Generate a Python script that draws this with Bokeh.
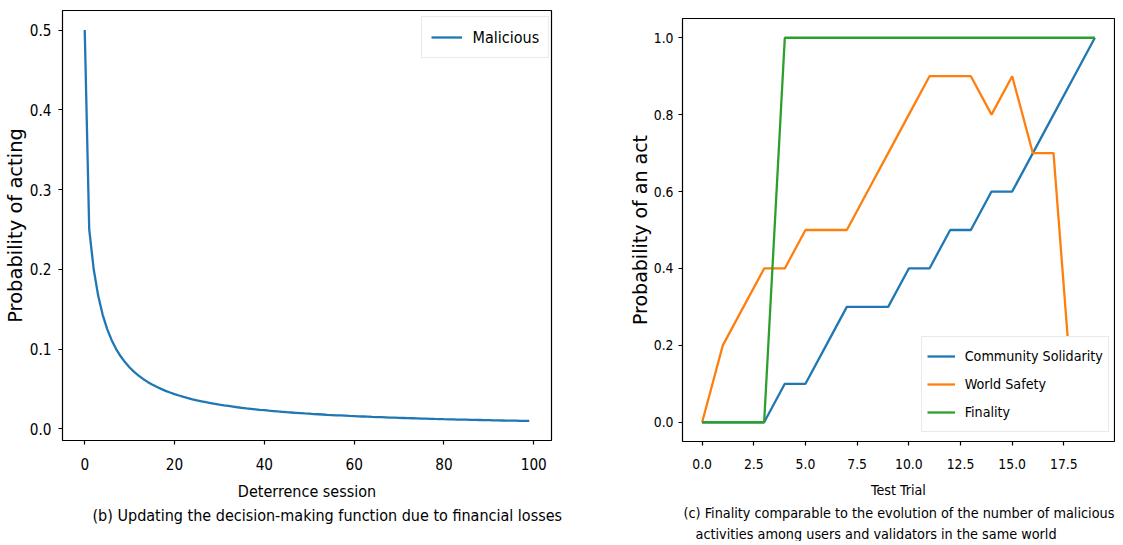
from bokeh.plotting import figure
from bokeh.models import Range1d, FixedTicker, NumeralTickFormatter, Legend, LegendItem, Title
from bokeh.layouts import row
from bokeh.embed import file_html
from bokeh.resources import INLINE

# ---------------- data ----------------
deterrence_session = list(range(100))
malicious = [0.5, 0.25, 0.2, 0.1667, 0.1429, 0.125, 0.1111, 0.1, 0.0909, 0.0833,
             0.0769, 0.0714, 0.0667, 0.0625, 0.0588, 0.0556, 0.0526, 0.05, 0.0476, 0.0455,
             0.0435, 0.0417, 0.04, 0.0385, 0.037, 0.0357, 0.0345, 0.0333, 0.0323, 0.0313,
             0.0303, 0.0294, 0.0286, 0.0278, 0.027, 0.0263, 0.0256, 0.025, 0.0244, 0.0238,
             0.0233, 0.0227, 0.0222, 0.0217, 0.0213, 0.0208, 0.0204, 0.02, 0.0196, 0.0192,
             0.0189, 0.0185, 0.0182, 0.0179, 0.0175, 0.0172, 0.0169, 0.0167, 0.0164, 0.0161,
             0.0159, 0.0156, 0.0154, 0.0152, 0.0149, 0.0147, 0.0145, 0.0143, 0.0141, 0.0139,
             0.0137, 0.0135, 0.0133, 0.0132, 0.013, 0.0128, 0.0127, 0.0125, 0.0123, 0.0122,
             0.012, 0.0119, 0.0118, 0.0116, 0.0115, 0.0114, 0.0112, 0.0111, 0.011, 0.0109,
             0.0108, 0.0106, 0.0105, 0.0104, 0.0103, 0.0102, 0.0101, 0.01, 0.0099, 0.0098]

test_trial = list(range(20))
community_solidarity = [0.0, 0.0, 0.0, 0.0, 0.1, 0.1, 0.2, 0.3, 0.3, 0.3,
                        0.4, 0.4, 0.5, 0.5, 0.6, 0.6, 0.7, 0.8, 0.9, 1.0]
world_safety = [0.0, 0.2, 0.3, 0.4, 0.4, 0.5, 0.5, 0.5, 0.6, 0.7,
                0.8, 0.9, 0.9, 0.9, 0.8, 0.9, 0.7, 0.7, 0.0, 0.0]
finality = [0.0, 0.0, 0.0, 0.0, 1.0, 1.0, 1.0, 1.0, 1.0, 1.0,
            1.0, 1.0, 1.0, 1.0, 1.0, 1.0, 1.0, 1.0, 1.0, 1.0]

left_xticks = [0, 20, 40, 60, 80, 100]
left_yticks = [0.0, 0.1, 0.2, 0.3, 0.4, 0.5]
right_xticks = [0.0, 2.5, 5.0, 7.5, 10.0, 12.5, 15.0, 17.5]
right_yticks = [0.0, 0.2, 0.4, 0.6, 0.8, 1.0]

caption_b = "(b) Updating the decision-making function due to financial losses"
caption_c1 = "(c) Finality comparable to the evolution of the number of malicious"
caption_c2 = "activities among users and validators in the same world"

# ---------------- styling ----------------
FONT = "DejaVu Sans Condensed"
YFONT = "DejaVu Sans"
BLUE, ORANGE, GREEN = "#1f77b4", "#ff7f0e", "#2ca02c"


def style(p, tick_font_size, xlabel_size, ylabel_size, x_tick_standoff, x_label_standoff,
          y_tick_standoff, y_label_standoff):
    p.grid.visible = False
    p.background_fill_color = "white"
    p.border_fill_color = "white"
    p.outline_line_color = "black"
    p.outline_line_width = 1.2
    p.outline_line_alpha = 1.0
    for ax in p.axis:
        ax.axis_line_color = None
        ax.major_tick_in = 0
        ax.major_tick_out = 4
        ax.major_tick_line_color = "black"
        ax.major_tick_line_width = 1.2
        ax.minor_tick_line_color = None
        ax.major_label_text_font = FONT
        ax.major_label_text_font_size = tick_font_size
        ax.major_label_text_color = "black"
        ax.axis_label_text_font_style = "normal"
        ax.axis_label_text_color = "black"
    p.xaxis.major_label_standoff = x_tick_standoff
    p.xaxis.axis_label_text_font = FONT
    p.xaxis.axis_label_text_font_size = xlabel_size
    p.xaxis.axis_label_standoff = x_label_standoff
    p.yaxis.major_label_standoff = y_tick_standoff
    p.yaxis.axis_label_text_font = YFONT
    p.yaxis.axis_label_text_font_size = ylabel_size
    p.yaxis.axis_label_standoff = y_label_standoff


def caption(text, size, offset, standoff):
    return Title(text=text, align="left", offset=offset, standoff=standoff,
                 text_font=FONT, text_font_size=size, text_font_style="normal",
                 text_color="black")


# ---------------- left panel ----------------
p1 = figure(frame_width=489, frame_height=430, output_backend="svg", toolbar_location=None,
            x_range=Range1d(-4.95, 103.95), y_range=Range1d(-0.0147, 0.5245),
            min_border_left=62, min_border_right=52, min_border_top=10, min_border_bottom=96,
            x_axis_label="Deterrence session", y_axis_label="Probability of acting",
            frame_align=False, styles={"flex-shrink": "0"})
r1 = p1.line(deterrence_session, malicious, line_color=BLUE, line_width=2.3)
style(p1, "15.2px", "16px", "19.5px", 13, 9, 7, 0)
p1.xaxis.ticker = FixedTicker(ticks=left_xticks)
p1.yaxis.ticker = FixedTicker(ticks=left_yticks)
p1.yaxis.formatter = NumeralTickFormatter(format="0.0")

leg1 = Legend(items=[LegendItem(label="Malicious", renderers=[r1])],
              location=(358.6, 381.7), padding=9, spacing=0,
              glyph_width=31, glyph_height=22, label_standoff=11, label_height=22,
              label_text_font=FONT, label_text_font_size="16px", label_text_color="black",
              border_line_color="#d6d6d6", border_line_width=1,
              background_fill_color="white", background_fill_alpha=1.0)
p1.add_layout(leg1)
p1.add_layout(caption(caption_b, "16px", 30, 0), "below")

# ---------------- right panel ----------------
p2 = figure(frame_width=432, frame_height=423, output_backend="svg", toolbar_location=None,
            x_range=Range1d(-0.95, 19.95), y_range=Range1d(-0.05, 1.05),
            min_border_left=79, min_border_right=1, min_border_top=18, min_border_bottom=100,
            x_axis_label="Test Trial", y_axis_label="Probability of an act",
            frame_align=False, styles={"flex-shrink": "0"})
ra = p2.line(test_trial, community_solidarity, line_color=BLUE, line_width=2.3)
rb = p2.line(test_trial, world_safety, line_color=ORANGE, line_width=2.3)
rc = p2.line(test_trial, finality, line_color=GREEN, line_width=2.3)
style(p2, "13.8px", "14.2px", "19px", 13, 10, 5, 0)
p2.xaxis.ticker = FixedTicker(ticks=right_xticks)
p2.xaxis.formatter = NumeralTickFormatter(format="0.0")
p2.yaxis.ticker = FixedTicker(ticks=right_yticks)
p2.yaxis.formatter = NumeralTickFormatter(format="0.0")

leg2 = Legend(items=[LegendItem(label="Community Solidarity", renderers=[ra]),
                     LegendItem(label="World Safety", renderers=[rb]),
                     LegendItem(label="Finality", renderers=[rc])],
              location=(238.7, 8.7), padding=5, spacing=0,
              glyph_width=28, glyph_height=28, label_standoff=10, label_height=28,
              label_text_font=FONT, label_text_font_size="14.2px", label_text_color="black",
              border_line_color="#d6d6d6", border_line_width=1,
              background_fill_color="white", background_fill_alpha=1.0)
p2.add_layout(leg2)
p2.add_layout(caption(caption_c1, "14.3px", 1, 5), "below")
p2.add_layout(caption(caption_c2, "14.3px", 13, 0), "below")

layout = row(p1, p2)
open("out.html", "w").write(file_html(layout, INLINE))
